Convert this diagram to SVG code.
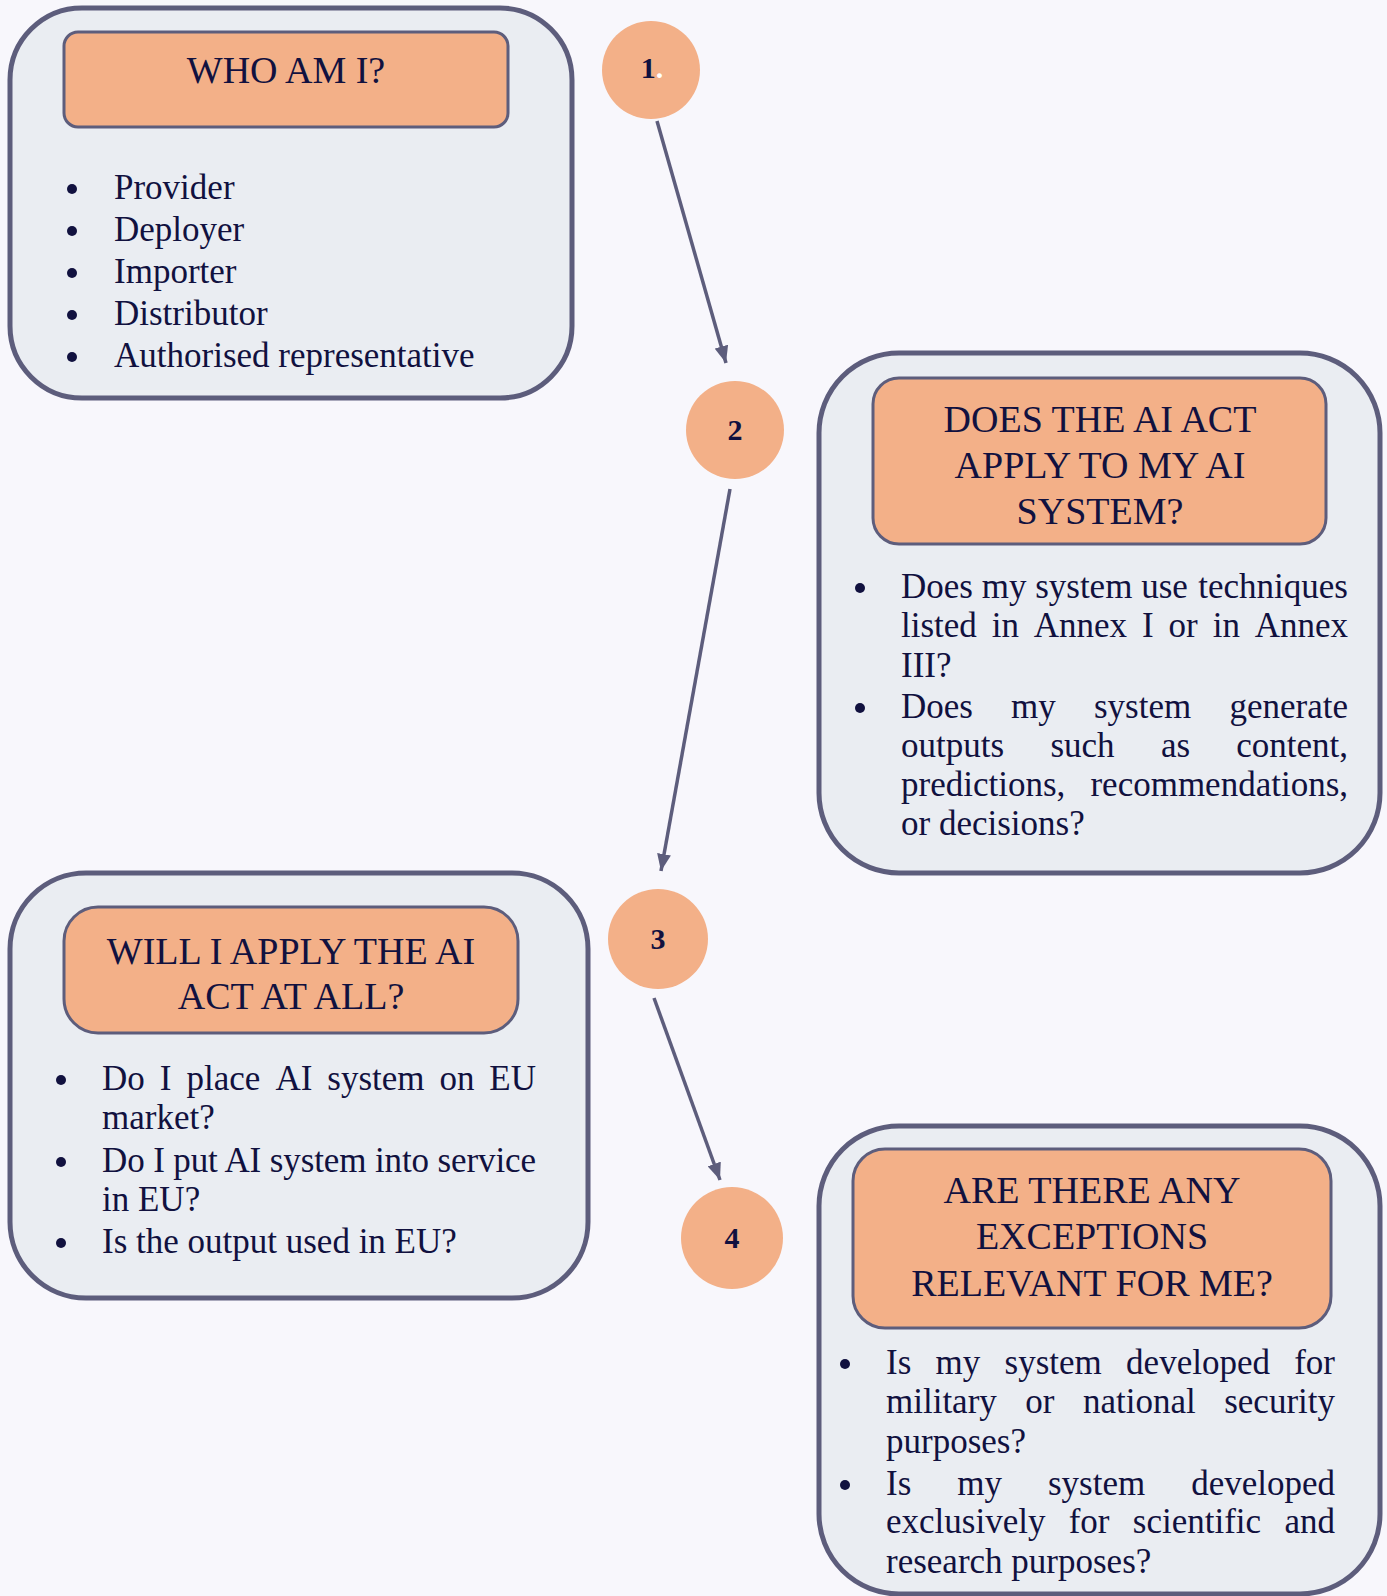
<svg xmlns="http://www.w3.org/2000/svg" width="1387" height="1596" viewBox="0 0 1387 1596">
<style>
.outer{fill:#eaedf2;stroke:#5d5d7c;stroke-width:5}
.head{fill:#f3b088;stroke:#5d5d7c;stroke-width:3}
.title{font-family:"Liberation Serif","Times New Roman",serif;font-size:38px;fill:#11113f;text-anchor:middle}
.body{font-family:"Liberation Serif","Times New Roman",serif;font-size:35px;fill:#11113f}
.num{font-family:"Liberation Serif","Times New Roman",serif;font-size:30px;font-weight:bold;fill:#11113f;text-anchor:middle}
.circ{fill:#f3b088}
.dot{fill:#11113f}
.conn{stroke:#5d5d7c;stroke-width:3.5;fill:none}
</style>
<defs>
<marker id="arr" markerUnits="userSpaceOnUse" markerWidth="18" markerHeight="14" refX="17" refY="7" orient="auto">
<path d="M0,0 L17,7 L0,14 z" fill="#5d5d7c"/>
</marker>
</defs>
<rect width="1387" height="1596" fill="#f8f7fc"/>

<g id="connectors">
<line class="conn" x1="657" y1="121" x2="726" y2="363" marker-end="url(#arr)"/>
<line class="conn" x1="730" y1="489" x2="661" y2="871" marker-end="url(#arr)"/>
<line class="conn" x1="654" y1="998" x2="720" y2="1180" marker-end="url(#arr)"/>
</g>

<g id="node-who">
<rect class="outer" x="10" y="8" width="562" height="390" rx="72"/>
<rect class="head" x="64" y="32" width="444" height="95" rx="14"/>
<text class="title" x="286" y="83">WHO AM I?</text>
<circle class="dot" cx="72" cy="189" r="5"/>
<circle class="dot" cx="72" cy="231" r="5"/>
<circle class="dot" cx="72" cy="273" r="5"/>
<circle class="dot" cx="72" cy="315" r="5"/>
<circle class="dot" cx="72" cy="357" r="5"/>
<text class="body" x="114" y="199">Provider</text>
<text class="body" x="114" y="241">Deployer</text>
<text class="body" x="114" y="283">Importer</text>
<text class="body" x="114" y="325">Distributor</text>
<text class="body" x="114" y="367">Authorised representative</text>
</g>

<g id="step-1">
<circle class="circ" cx="651" cy="70" r="49"/>
<text class="num" x="652" y="78">1<tspan fill="#ffffff">.</tspan></text>
</g>

<g id="step-2">
<circle class="circ" cx="735" cy="430" r="49"/>
<text class="num" x="735" y="440">2</text>
</g>

<g id="step-3">
<circle class="circ" cx="658" cy="939" r="50"/>
<text class="num" x="658" y="949">3</text>
</g>

<g id="step-4">
<circle class="circ" cx="732" cy="1238" r="51"/>
<text class="num" x="732" y="1248">4</text>
</g>

<g id="node-apply">
<rect class="outer" x="819" y="353" width="561" height="520" rx="80"/>
<rect class="head" x="873" y="378" width="453" height="166" rx="26"/>
<text class="title" x="1100" y="432">DOES THE AI ACT</text>
<text class="title" x="1100" y="478">APPLY TO MY AI</text>
<text class="title" x="1100" y="524">SYSTEM?</text>
<circle class="dot" cx="860" cy="588" r="5"/>
<circle class="dot" cx="860" cy="708" r="5"/>
<text class="body" y="598"><tspan x="901">Does my system use</tspan><tspan x="1348" text-anchor="end">techniques</tspan></text>
<text class="body" y="637"><tspan x="901">listed</tspan><tspan x="991.7">in</tspan><tspan x="1033.8">Annex</tspan><tspan x="1142">I</tspan><tspan x="1168.6">or</tspan><tspan x="1212.7">in</tspan><tspan x="1348" text-anchor="end">Annex</tspan></text>
<text class="body" x="901" y="677">III?</text>
<text class="body" y="718"><tspan x="901">Does</tspan><tspan x="1011">my</tspan><tspan x="1094">system</tspan><tspan x="1348" text-anchor="end">generate</tspan></text>
<text class="body" y="757"><tspan x="901">outputs</tspan><tspan x="1050.4">such</tspan><tspan x="1160.9">as</tspan><tspan x="1348" text-anchor="end">content,</tspan></text>
<text class="body" y="796"><tspan x="901">predictions,</tspan><tspan x="1348" text-anchor="end">recommendations,</tspan></text>
<text class="body" x="901" y="835">or decisions?</text>
</g>

<g id="node-all">
<rect class="outer" x="10" y="873" width="578" height="425" rx="76"/>
<rect class="head" x="64" y="907" width="454" height="126" rx="34"/>
<text class="title" x="291" y="964">WILL I APPLY THE AI</text>
<text class="title" x="291" y="1009">ACT AT ALL?</text>
<circle class="dot" cx="61" cy="1080" r="5"/>
<circle class="dot" cx="61" cy="1162" r="5"/>
<circle class="dot" cx="61" cy="1243" r="5"/>
<text class="body" y="1090"><tspan x="102">Do</tspan><tspan x="159.8">I</tspan><tspan x="186.5">place</tspan><tspan x="275.4">AI</tspan><tspan x="327.3">system</tspan><tspan x="439.5">on</tspan><tspan x="536" text-anchor="end">EU</tspan></text>
<text class="body" x="102" y="1129">market?</text>
<text class="body" x="102" y="1172" textLength="434" lengthAdjust="spacing">Do I put AI system into service</text>
<text class="body" x="102" y="1211">in EU?</text>
<text class="body" x="102" y="1253">Is the output used in EU?</text>
</g>

<g id="node-exceptions">
<rect class="outer" x="819" y="1126" width="561" height="468" rx="80"/>
<rect class="head" x="853" y="1149" width="478" height="179" rx="32"/>
<text class="title" x="1092" y="1203">ARE THERE ANY</text>
<text class="title" x="1092" y="1249">EXCEPTIONS</text>
<text class="title" x="1092" y="1296">RELEVANT FOR ME?</text>
<circle class="dot" cx="845" cy="1364" r="5"/>
<circle class="dot" cx="845" cy="1485" r="5"/>
<text class="body" y="1374"><tspan x="886">Is</tspan><tspan x="935.6">my</tspan><tspan x="1004.6">system</tspan><tspan x="1126.1">developed</tspan><tspan x="1335" text-anchor="end">for</tspan></text>
<text class="body" y="1413"><tspan x="886">military</tspan><tspan x="1025.3">or</tspan><tspan x="1083">national</tspan><tspan x="1335" text-anchor="end">security</tspan></text>
<text class="body" x="886" y="1453">purposes?</text>
<text class="body" y="1495"><tspan x="886">Is</tspan><tspan x="957.3">my</tspan><tspan x="1048">system</tspan><tspan x="1335" text-anchor="end">developed</tspan></text>
<text class="body" y="1533"><tspan x="886">exclusively</tspan><tspan x="1068.7">for</tspan><tspan x="1132.8">scientific</tspan><tspan x="1335" text-anchor="end">and</tspan></text>
<text class="body" x="886" y="1573">research purposes?</text>
</g>
</svg>
